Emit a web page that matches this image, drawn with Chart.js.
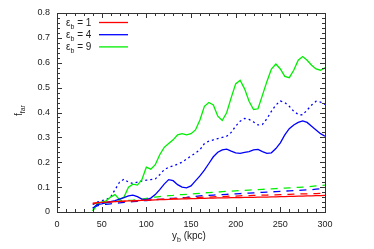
<!DOCTYPE html>
<html>
<head>
<meta charset="utf-8">
<script src="https://cdn.jsdelivr.net/npm/chart.js@4"></script>
<style>
  html, body { margin: 0; padding: 0; background: #fff; }
  #wrap { width: 374px; height: 249px; }
</style>
</head>
<body>
<div id="wrap"><canvas id="c" width="374" height="249"></canvas></div>
<script>
// y_b in kpc
const yb = [40, 45, 50, 55, 60, 65, 70, 75, 80, 85, 90, 95, 100, 105, 110, 115, 120, 125, 130, 135,
    140, 145, 150, 155, 160, 165, 170, 175, 180, 185, 190, 195, 200, 205, 210, 215, 220, 225, 230, 235,
    240, 245, 250, 255, 260, 265, 270, 275, 280, 285, 290, 295, 300];

// eps_b = 9, solid
const green9 = [0.005, 0.035, 0.04, 0.045, 0.06, 0.07, 0.05, 0.06, 0.10, 0.112, 0.108, 0.13, 0.18, 0.172, 0.19, 0.23, 0.26, 0.275, 0.29, 0.31,
    0.315, 0.31, 0.315, 0.33, 0.37, 0.425, 0.44, 0.43, 0.385, 0.368, 0.40, 0.46, 0.515, 0.53, 0.495, 0.445, 0.412, 0.415, 0.47, 0.525,
    0.575, 0.595, 0.575, 0.545, 0.54, 0.57, 0.61, 0.625, 0.61, 0.59, 0.575, 0.57, 0.58];
// eps_b = 4, solid
const blue4 = [0.015, 0.03, 0.033, 0.038, 0.042, 0.046, 0.052, 0.058, 0.065, 0.068, 0.062, 0.052, 0.05, 0.056, 0.07, 0.09, 0.112, 0.13, 0.126, 0.11,
    0.10, 0.097, 0.105, 0.125, 0.145, 0.168, 0.195, 0.222, 0.24, 0.25, 0.253, 0.245, 0.238, 0.236, 0.24, 0.243, 0.25, 0.252, 0.243, 0.236,
    0.238, 0.255, 0.278, 0.31, 0.335, 0.35, 0.36, 0.366, 0.36, 0.345, 0.33, 0.315, 0.305];
// eps_b = 4, dotted
const blue4dot = [0.03, 0.04, 0.045, 0.05, 0.06, 0.09, 0.12, 0.132, 0.12, 0.115, 0.12, 0.125, 0.128, 0.13, 0.133, 0.15, 0.17, 0.18, 0.185, 0.192,
    0.20, 0.213, 0.225, 0.237, 0.25, 0.275, 0.285, 0.29, 0.295, 0.30, 0.305, 0.32, 0.345, 0.365, 0.376, 0.372, 0.362, 0.35, 0.352, 0.375,
    0.405, 0.43, 0.446, 0.44, 0.425, 0.405, 0.392, 0.39, 0.41, 0.43, 0.445, 0.442, 0.432];
// dashed curves
const green9dash = [0.005, 0.03, 0.035, 0.037, 0.04, 0.042, 0.045, 0.046, 0.047, 0.048, 0.05, 0.052, 0.055, 0.058, 0.06, 0.062, 0.064, 0.066, 0.067, 0.069,
    0.070, 0.071, 0.072, 0.074, 0.075, 0.077, 0.078, 0.079, 0.080, 0.082, 0.083, 0.084, 0.085, 0.086, 0.087, 0.088, 0.089, 0.090, 0.091, 0.092,
    0.093, 0.094, 0.095, 0.096, 0.097, 0.098, 0.099, 0.100, 0.101, 0.103, 0.105, 0.106, 0.108];
const blue4dash = [0.015, 0.025, 0.028, 0.031, 0.033, 0.035, 0.037, 0.039, 0.04, 0.042, 0.043, 0.045, 0.046, 0.048, 0.05, 0.051, 0.052, 0.054, 0.055, 0.056,
    0.058, 0.059, 0.061, 0.063, 0.065, 0.066, 0.067, 0.068, 0.069, 0.070, 0.071, 0.072, 0.073, 0.074, 0.075, 0.076, 0.077, 0.078, 0.079, 0.080,
    0.081, 0.082, 0.083, 0.084, 0.085, 0.086, 0.087, 0.088, 0.089, 0.090, 0.092, 0.093, 0.095];
const red1dash = [0.033, 0.036, 0.038, 0.039, 0.040, 0.041, 0.042, 0.043, 0.044, 0.045, 0.046, 0.047, 0.048, 0.049, 0.050, 0.051, 0.052, 0.053, 0.054, 0.055,
    0.056, 0.057, 0.057, 0.058, 0.059, 0.060, 0.060, 0.061, 0.062, 0.062, 0.063, 0.064, 0.064, 0.065, 0.066, 0.066, 0.067, 0.067, 0.068, 0.068,
    0.069, 0.069, 0.070, 0.071, 0.071, 0.072, 0.072, 0.073, 0.073, 0.074, 0.074, 0.075, 0.075];
const red1 = [0.036, 0.038, 0.039, 0.040, 0.041, 0.042, 0.043, 0.044, 0.045, 0.045, 0.046, 0.047, 0.048, 0.048, 0.049, 0.050, 0.050, 0.051, 0.052, 0.052,
    0.053, 0.053, 0.054, 0.054, 0.055, 0.055, 0.056, 0.056, 0.057, 0.057, 0.057, 0.058, 0.058, 0.058, 0.059, 0.059, 0.059, 0.060, 0.060, 0.060,
    0.061, 0.061, 0.062, 0.062, 0.063, 0.063, 0.064, 0.064, 0.065, 0.065, 0.066, 0.066, 0.067];

const legendLabels = ['1', '4', '9'];
const legendColors = ['#ff0000', '#0000ff', '#00ee00'];

const RED = '#ff0000', BLUE = '#0000ff', GREEN = '#00ee00';
const FONT = '"Liberation Sans", Arial, sans-serif';

function pts(ys) {
    return yb.map((x, i) => ({ x: x, y: ys[i] }));
}
function line(ys, color, dash) {
    return {
        data: pts(ys),
        borderColor: color,
        borderWidth: 1.3,
        borderDash: dash || [],
        pointRadius: 0,
        fill: false,
        tension: 0
    };
}

// frame, inward ticks, axis titles, legend
const decorations = {
    id: 'decorations',
    afterDraw(chart) {
        const { ctx, chartArea: a, scales: { x, y } } = chart;
        ctx.save();
        ctx.strokeStyle = '#333';
        ctx.lineWidth = 1;
        ctx.strokeRect(a.left + 0.5, a.top + 0.5, a.right - a.left, a.bottom - a.top);
        ctx.beginPath();
        for (let v = 0; v <= 300; v += 10) {
            const px = Math.round(x.getPixelForValue(v)) + 0.5;
            const len = v % 50 === 0 ? 5 : 3;
            ctx.moveTo(px, a.bottom); ctx.lineTo(px, a.bottom - len);
            ctx.moveTo(px, a.top); ctx.lineTo(px, a.top + len);
        }
        for (let k = 0; k <= 40; k++) {
            const py = Math.round(y.getPixelForValue(k * 0.02)) + 0.5;
            const len = k % 5 === 0 ? 5 : 3;
            ctx.moveTo(a.left, py); ctx.lineTo(a.left + len, py);
            ctx.moveTo(a.right, py); ctx.lineTo(a.right - len, py);
        }
        ctx.stroke();

        ctx.fillStyle = '#222';
        ctx.textBaseline = 'alphabetic';
        // x title: y_b (kpc)
        ctx.font = '10px ' + FONT;
        let tx = 172, ty = 239;
        ctx.fillText('y', tx, ty); tx += ctx.measureText('y').width;
        ctx.font = '7px ' + FONT;
        ctx.fillText('b', tx, ty + 3); tx += ctx.measureText('b').width;
        ctx.font = '10px ' + FONT;
        ctx.fillText(' (kpc)', tx, ty);

        // y title: f_far
        ctx.save();
        ctx.translate(22, 116);
        ctx.rotate(-Math.PI / 2);
        ctx.font = '10px ' + FONT;
        ctx.fillText('f', 0, 0);
        const fw = ctx.measureText('f').width;
        ctx.font = '7px ' + FONT;
        ctx.fillText('far', fw, 3);
        ctx.restore();

        // legend
        for (let i = 0; i < legendLabels.length; i++) {
            const ly = 22.5 + i * 12.2;
            let lx = 66;
            ctx.font = '10px ' + FONT;
            ctx.fillStyle = '#222';
            ctx.fillText('ε', lx, ly + 3.5); lx += ctx.measureText('ε').width;
            ctx.font = '7px ' + FONT;
            ctx.fillText('b', lx, ly + 6); lx += ctx.measureText('b').width;
            ctx.font = '10px ' + FONT;
            ctx.fillText(' = ' + legendLabels[i], lx, ly + 3.5);
            ctx.strokeStyle = legendColors[i];
            ctx.lineWidth = 1.3;
            ctx.beginPath();
            ctx.moveTo(99, ly); ctx.lineTo(128, ly);
            ctx.stroke();
        }
        ctx.restore();
    }
};

new Chart(document.getElementById('c'), {
    type: 'line',
    data: {
        datasets: [
            line(red1, RED),
            line(blue4, BLUE),
            line(green9, GREEN),
            line(red1dash, RED, [7, 6]),
            line(blue4dash, BLUE, [7, 6]),
            line(green9dash, GREEN, [7, 6]),
            line(blue4dot, BLUE, [2, 3])
        ]
    },
    options: {
        responsive: false,
        animation: false,
        layout: { padding: { top: 13, right: 49, left: 0, bottom: 0 } },
        plugins: { legend: { display: false }, tooltip: { enabled: false } },
        scales: {
            x: {
                type: 'linear', min: 0, max: 300,
                grid: { display: false, drawTicks: false },
                border: { display: false },
                ticks: { stepSize: 50, padding: 7, color: '#222', font: { family: FONT, size: 9 }, maxRotation: 0 },
                afterFit(s) { s.height = 37; }
            },
            y: {
                min: 0, max: 0.8,
                grid: { display: false, drawTicks: false },
                border: { display: false },
                ticks: { stepSize: 0.1, padding: 7, color: '#222', font: { family: FONT, size: 9 } },
                afterFit(s) { s.width = 57; }
            }
        }
    },
    plugins: [decorations]
});
</script>
</body>
</html>
